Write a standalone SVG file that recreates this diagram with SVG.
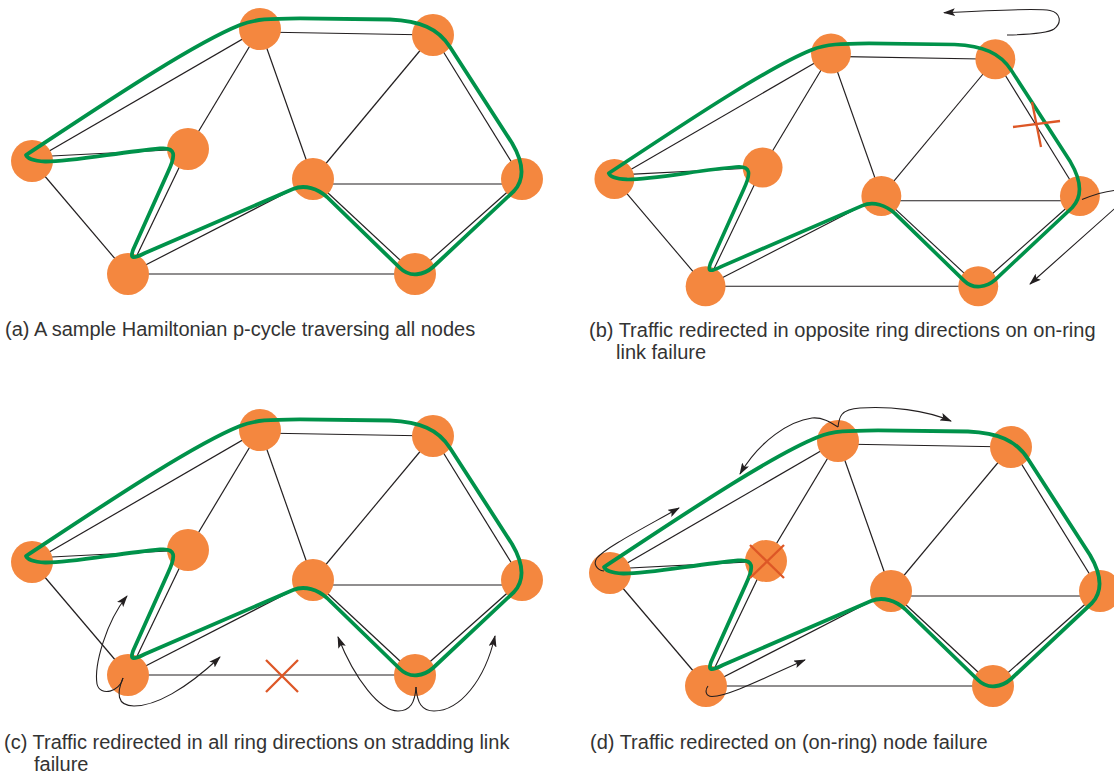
<svg xmlns="http://www.w3.org/2000/svg" width="1114" height="776" viewBox="0 0 1114 776">
<defs>
<style>
.edge{stroke:#231f20;stroke-width:1.2;fill:none}
.ring{stroke:#00924a;stroke-width:3.8;fill:none;stroke-linejoin:round;stroke-linecap:round}
.node{fill:#f4873f}
.fail{stroke:#dd5726;stroke-width:2.3;fill:none}
.arrow{stroke:#231f20;stroke-width:1.1;fill:none;marker-end:url(#ah)}
.cap{font-family:"Liberation Sans",Arial,sans-serif;font-size:20px;fill:#333333}
</style>
<marker id="ah" viewBox="0 0 12 8" refX="11" refY="4" markerWidth="12" markerHeight="8" markerUnits="userSpaceOnUse" orient="auto">
<path d="M0,0 L12,4 L0,8 L2.5,4 z" fill="#231f20"/>
</marker>
<path id="ringpath" d="M26,155 C90,113 190,45 240,25 C255,19 270,18.5 300,18.3 L390,19.5 C420,21 438,28 450,47 L512,143 C522,160 526,178 514,191 L433,267 C424,275 410,278 400,268 L327,197 C318,189 305,184 293,189 L145,253 C133,259 130,259 133,250 L168,172 C176,155 176,147 160,148.5 C120,152 70,162 45,161.5 C33,161 27,158 26,155 Z"/>
</defs>
<rect width="1114" height="776" fill="#ffffff"/>

<!-- Panel (a) -->
<g id="panel-a">
<g id="a-connectors" class="edge">
<line x1="32" y1="161" x2="260" y2="29"/>
<line x1="32" y1="157" x2="188" y2="149"/>
<line x1="32" y1="161" x2="128" y2="274"/>
<line x1="188" y1="149" x2="260" y2="29"/>
<line x1="188" y1="149" x2="128" y2="274"/>
<line x1="260" y1="32" x2="433" y2="35"/>
<line x1="260" y1="29" x2="313" y2="179"/>
<line x1="433" y1="35" x2="313" y2="179"/>
<line x1="433" y1="35" x2="522" y2="179"/>
<line x1="313" y1="184" x2="522" y2="184"/>
<line x1="313" y1="179" x2="128" y2="274"/>
<line x1="313" y1="179" x2="415" y2="274"/>
<line x1="522" y1="179" x2="415" y2="274"/>
<line x1="128" y1="274" x2="415" y2="274"/>
</g>
<g id="a-n1"><circle class="node" cx="32" cy="161" r="21"/></g>
<g id="a-n2"><circle class="node" cx="188" cy="149" r="21"/></g>
<g id="a-n3"><circle class="node" cx="260" cy="29" r="21"/></g>
<g id="a-n4"><circle class="node" cx="433" cy="35" r="21"/></g>
<g id="a-n5"><circle class="node" cx="313" cy="179" r="21"/></g>
<g id="a-n6"><circle class="node" cx="522" cy="179" r="21"/></g>
<g id="a-n7"><circle class="node" cx="128" cy="274" r="21"/></g>
<g id="a-n8"><circle class="node" cx="415" cy="274" r="21"/></g>
<g id="a-ring"><use href="#ringpath" class="ring"/></g>
</g>

<!-- Panel (b) -->
<g id="panel-b" transform="translate(584,26) scale(0.95)">
<g id="b-connectors" class="edge">
<line x1="32" y1="161" x2="260" y2="29"/>
<line x1="32" y1="157" x2="188" y2="149"/>
<line x1="32" y1="161" x2="128" y2="274"/>
<line x1="188" y1="149" x2="260" y2="29"/>
<line x1="188" y1="149" x2="128" y2="274"/>
<line x1="260" y1="32" x2="433" y2="35"/>
<line x1="260" y1="29" x2="313" y2="179"/>
<line x1="433" y1="35" x2="313" y2="179"/>
<line x1="433" y1="35" x2="522" y2="179"/>
<line x1="313" y1="184" x2="522" y2="184"/>
<line x1="313" y1="179" x2="128" y2="274"/>
<line x1="313" y1="179" x2="415" y2="274"/>
<line x1="522" y1="179" x2="415" y2="274"/>
<line x1="128" y1="274" x2="415" y2="274"/>
</g>
<g id="b-n1"><circle class="node" cx="32" cy="161" r="21"/></g>
<g id="b-n2"><circle class="node" cx="188" cy="149" r="21"/></g>
<g id="b-n3"><circle class="node" cx="260" cy="29" r="21"/></g>
<g id="b-n4"><circle class="node" cx="433" cy="35" r="21"/></g>
<g id="b-n5"><circle class="node" cx="313" cy="179" r="21"/></g>
<g id="b-n6"><circle class="node" cx="522" cy="179" r="21"/></g>
<g id="b-n7"><circle class="node" cx="128" cy="274" r="21"/></g>
<g id="b-n8"><circle class="node" cx="415" cy="274" r="21"/></g>
<g id="b-ring"><use href="#ringpath" class="ring"/></g>
</g>
<g id="b-failure" class="fail">
<line x1="1013" y1="127" x2="1060" y2="121"/>
<line x1="1032" y1="102" x2="1041" y2="147"/>
</g>
<g id="b-arrows">
<path class="arrow" d="M1007,35 C1035,34.5 1048,33 1054,29 C1062,23 1061,13 1050,10.5 C1040,8.5 1015,9 944,12.7"/>
<path class="arrow" d="M1082,199.5 C1098,193 1112,190 1122,190 C1132,190 1128,196 1122,202 L1030,284"/>
</g>

<!-- Panel (c) -->
<g id="panel-c" transform="translate(0,401)">
<g id="c-connectors" class="edge">
<line x1="32" y1="161" x2="260" y2="29"/>
<line x1="32" y1="157" x2="188" y2="149"/>
<line x1="32" y1="161" x2="128" y2="274"/>
<line x1="188" y1="149" x2="260" y2="29"/>
<line x1="188" y1="149" x2="128" y2="274"/>
<line x1="260" y1="32" x2="433" y2="35"/>
<line x1="260" y1="29" x2="313" y2="179"/>
<line x1="433" y1="35" x2="313" y2="179"/>
<line x1="433" y1="35" x2="522" y2="179"/>
<line x1="313" y1="184" x2="522" y2="184"/>
<line x1="313" y1="179" x2="128" y2="274"/>
<line x1="313" y1="179" x2="415" y2="274"/>
<line x1="522" y1="179" x2="415" y2="274"/>
<line x1="128" y1="274" x2="415" y2="274"/>
</g>
<g id="c-n1"><circle class="node" cx="32" cy="161" r="21"/></g>
<g id="c-n2"><circle class="node" cx="188" cy="149" r="21"/></g>
<g id="c-n3"><circle class="node" cx="260" cy="29" r="21"/></g>
<g id="c-n4"><circle class="node" cx="433" cy="35" r="21"/></g>
<g id="c-n5"><circle class="node" cx="313" cy="179" r="21"/></g>
<g id="c-n6"><circle class="node" cx="522" cy="179" r="21"/></g>
<g id="c-n7"><circle class="node" cx="128" cy="274" r="21"/></g>
<g id="c-n8"><circle class="node" cx="415" cy="274" r="21"/></g>
<g id="c-ring"><use href="#ringpath" class="ring"/></g>
</g>
<g id="c-failure" class="fail">
<line x1="266" y1="660" x2="298" y2="692"/>
<line x1="298" y1="660" x2="266" y2="692"/>
</g>
<g id="c-arrows">
<path class="arrow" d="M123,678 C120,692 100,697 97,684 C94,665 106,622 127,596"/>
<path class="arrow" d="M123,678 C117,692 116,706 134,706 C155,706 185,690 220,657"/>
<path class="arrow" d="M416,687 C415,703 410,711 398,711 C380,711 355,680 338,637"/>
<path class="arrow" d="M416,687 C417,703 422,711 434,711 C460,711 485,680 495,636"/>
</g>

<!-- Panel (d) -->
<g id="panel-d" transform="translate(578,412)">
<g id="d-connectors" class="edge">
<line x1="32" y1="161" x2="260" y2="29"/>
<line x1="32" y1="157" x2="188" y2="149"/>
<line x1="32" y1="161" x2="128" y2="274"/>
<line x1="188" y1="149" x2="260" y2="29"/>
<line x1="188" y1="149" x2="128" y2="274"/>
<line x1="260" y1="32" x2="433" y2="35"/>
<line x1="260" y1="29" x2="313" y2="179"/>
<line x1="433" y1="35" x2="313" y2="179"/>
<line x1="433" y1="35" x2="522" y2="179"/>
<line x1="313" y1="184" x2="522" y2="184"/>
<line x1="313" y1="179" x2="128" y2="274"/>
<line x1="313" y1="179" x2="415" y2="274"/>
<line x1="522" y1="179" x2="415" y2="274"/>
<line x1="128" y1="274" x2="415" y2="274"/>
</g>
<g id="d-n1"><circle class="node" cx="32" cy="161" r="21"/></g>
<g id="d-n2"><circle class="node" cx="188" cy="149" r="21"/></g>
<g id="d-n3"><circle class="node" cx="260" cy="29" r="21"/></g>
<g id="d-n4"><circle class="node" cx="433" cy="35" r="21"/></g>
<g id="d-n5"><circle class="node" cx="313" cy="179" r="21"/></g>
<g id="d-n6"><circle class="node" cx="522" cy="179" r="21"/></g>
<g id="d-n7"><circle class="node" cx="128" cy="274" r="21"/></g>
<g id="d-n8"><circle class="node" cx="415" cy="274" r="21"/></g>
<g id="d-ring"><use href="#ringpath" class="ring"/></g>
</g>
<g id="d-failure" class="fail">
<line x1="750" y1="545" x2="784" y2="578"/>
<line x1="784" y1="545" x2="750" y2="578"/>
</g>
<g id="d-arrows">
<path class="arrow" d="M838,427 C839,418 840,409 860,408 C890,406 925,410 951,421"/>
<path class="arrow" d="M838,427 C830,422 822,417 812,418 C790,421 760,440 740,474"/>
<path class="arrow" d="M604,571 C596,570 593,563 597,558 C605,548 640,530 679,508"/>
<path class="arrow" d="M708,686 C705,690 705,696 712,696.5 C730,696 770,675 805,660"/>
</g>

<!-- Captions -->
<g id="captions" class="cap">
<text x="5" y="336">(a) A sample Hamiltonian p-cycle traversing all nodes</text>
<text x="589" y="337">(b) Traffic redirected in opposite ring directions on on-ring</text>
<text x="616" y="359">link failure</text>
<text x="4" y="749">(c) Traffic redirected in all ring directions on stradding link</text>
<text x="34" y="771">failure</text>
<text x="590" y="749">(d) Traffic redirected on (on-ring) node failure</text>
</g>
</svg>
